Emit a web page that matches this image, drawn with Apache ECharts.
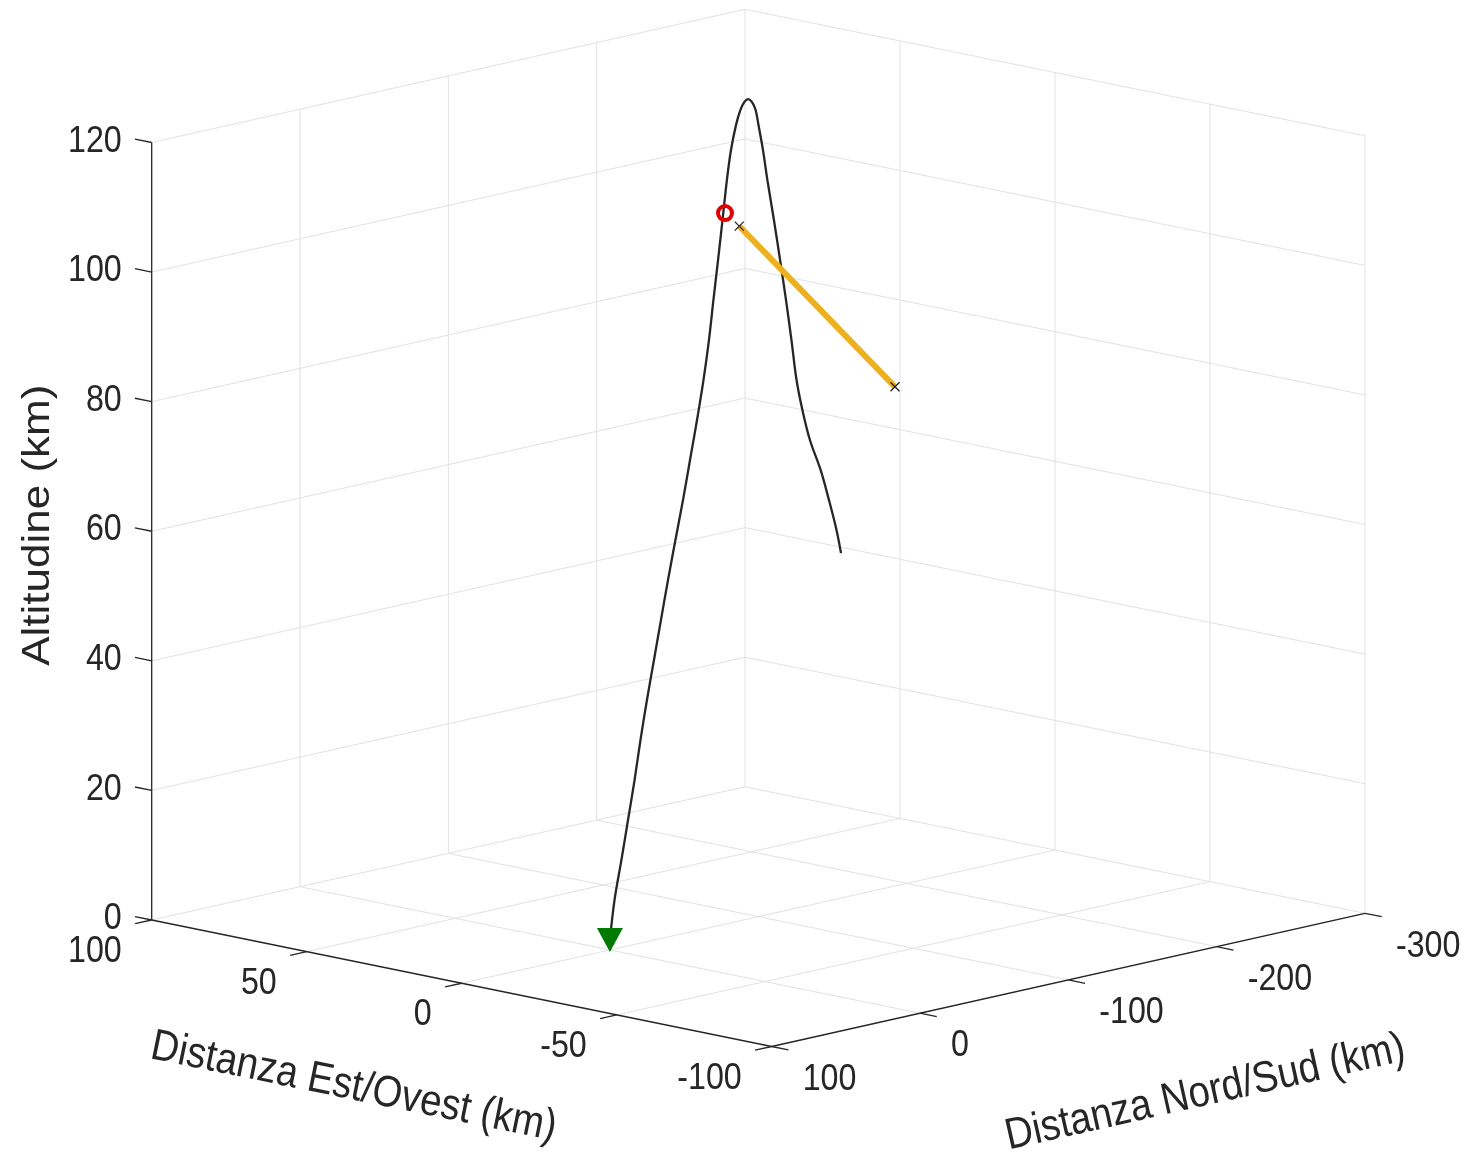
<!DOCTYPE html>
<html><head><meta charset="utf-8">
<script src="https://cdn.jsdelivr.net/npm/echarts@6/dist/echarts.min.js"></script>
<style>html,body{margin:0;padding:0;background:#fff}#c{width:1479px;height:1156px}</style>
</head><body><div id="c"></div>
<script>
// ---- tick values ----
const ewTicks = [100, 50, 0, -50, -100];
const nsTicks = [100, 0, -100, -200, -300];
const altTicks = [0, 20, 40, 60, 80, 100, 120];
const axisTitles = ['Distanza Est/Ovest (km)', 'Distanza Nord/Sud (km)', 'Altitudine (km)'];

// ---- trajectory [Est/Ovest, Nord/Sud, Altitudine] (km) ----
const trajectory = [
  [7.5,-15.6,0.0],[7.5,-18.7,6.0],[7.5,-23.4,12.0],[7.5,-27.8,17.9],[7.5,-32.2,23.8],
  [7.5,-36.2,29.8],[7.5,-40.6,35.8],[7.5,-45.3,41.7],[7.5,-50.0,47.6],[7.5,-54.8,53.6],
  [7.5,-59.8,59.5],[7.5,-64.9,65.4],[7.5,-69.6,71.3],[7.5,-74.3,77.2],[7.5,-78.7,83.2],
  [7.5,-82.4,89.2],[7.5,-85.4,95.2],[7.5,-88.5,101.2],[7.5,-91.5,107.2],[7.5,-94.5,113.3],
  [7.5,-97.2,117.7],[7.5,-100.6,121.4],[7.5,-103.6,123.6],[7.5,-106.3,124.7],[7.5,-108.9,125.0],
  [7.5,-111.4,124.4],[7.5,-113.8,123.1],[7.5,-115.8,120.6],[7.5,-118.8,116.6],[7.5,-121.8,111.8],
  [7.5,-126.2,105.4],[7.5,-130.3,99.1],[7.5,-134.3,92.7],[7.5,-138.0,86.3],[7.5,-141.4,80.0],
  [7.5,-145.4,75.1],[7.5,-150.5,70.2],[7.5,-157.6,65.3],[7.5,-163.3,60.3],[7.5,-168.4,55.4],
  [7.5,-171.4,51.7]
];
// orange segment endpoints
const segment = [[7.5,-102.8,105.7],[7.5,-207.8,75.5]];
// red circle point
const redPoint = [[7.5,-93.2,108.2]];
// green triangle (ground point)
const groundPoint = [[7.5,-15.6,0.0]];

// ---- 3D box & view ----
const AX = {ewMax:ewTicks[0], ewMin:ewTicks[ewTicks.length-1], nsMax:nsTicks[0], nsMin:nsTicks[nsTicks.length-1], zMin:altTicks[0], zMax:altTicks[altTicks.length-1]};
const VIEW = {ox:151.7, oy:920, ew:[620,126.5], ns:[593.3,-133.2], zPx:777.5};
function proj(p){
  const e=(AX.ewMax-p[0])/(AX.ewMax-AX.ewMin);
  const n=(AX.nsMax-p[1])/(AX.nsMax-AX.nsMin);
  const h=(p[2]-AX.zMin)/(AX.zMax-AX.zMin);
  return [VIEW.ox+VIEW.ew[0]*e+VIEW.ns[0]*n, VIEW.oy+VIEW.ew[1]*e+VIEW.ns[1]*n-VIEW.zPx*h];
}

const GRID='#e2e2e2', AXC='#262626';
const segs=[];
function seg(a,b,c,w){segs.push({a:proj(a),b:proj(b),c:c,w:w});}
// left wall (EW = max)
nsTicks.forEach(ns=>{ if(ns!==AX.nsMax) seg([AX.ewMax,ns,AX.zMin],[AX.ewMax,ns,AX.zMax],GRID,1); });
altTicks.forEach(z=>{ if(z!==AX.zMin) seg([AX.ewMax,AX.nsMax,z],[AX.ewMax,AX.nsMin,z],GRID,1); });
// right wall (NS = min)
ewTicks.forEach(ew=>{ if(ew!==AX.ewMax) seg([ew,AX.nsMin,AX.zMin],[ew,AX.nsMin,AX.zMax],GRID,1); });
altTicks.forEach(z=>{ if(z!==AX.zMin) seg([AX.ewMax,AX.nsMin,z],[AX.ewMin,AX.nsMin,z],GRID,1); });
// floor
ewTicks.forEach(ew=>seg([ew,AX.nsMax,0],[ew,AX.nsMin,0],GRID,1));
nsTicks.forEach(ns=>{ if(ns!==AX.nsMax) seg([AX.ewMax,ns,0],[AX.ewMin,ns,0],GRID,1); });
// axes
seg([AX.ewMax,AX.nsMax,AX.zMin],[AX.ewMax,AX.nsMax,AX.zMax],AXC,1.3);
seg([AX.ewMax,AX.nsMax,0],[AX.ewMin,AX.nsMax,0],AXC,1.3);
seg([AX.ewMin,AX.nsMax,0],[AX.ewMin,AX.nsMin,0],AXC,1.3);
// ticks
const tEW=(AX.ewMax-AX.ewMin)*0.027, tNS=(AX.nsMax-AX.nsMin)*0.028;
altTicks.forEach(z=>seg([AX.ewMax,AX.nsMax,z],[AX.ewMax+tEW,AX.nsMax,z],AXC,1.3));
ewTicks.forEach(ew=>seg([ew,AX.nsMax,0],[ew,AX.nsMax+tNS,0],AXC,1.3));
nsTicks.forEach(ns=>seg([AX.ewMin,ns,0],[AX.ewMin-tEW,ns,0],AXC,1.3));

// ---- labels ----
const FONT='"Liberation Sans", Arial, Helvetica, sans-serif';
const labels=[];
altTicks.forEach(z=>{const p=proj([AX.ewMax,AX.nsMax,z]); labels.push({p:p,dx:-30,dy:-1,t:String(z),al:'right',fs:37,r:0,sx:0.87,sy:1});});
ewTicks.forEach(ew=>{const p=proj([ew,AX.nsMax,0]); labels.push({p:p,dx:-30,dy:32,t:String(ew),al:'right',fs:37,r:0,sx:0.87,sy:1});});
nsTicks.forEach(ns=>{const p=proj([AX.ewMin,ns,0]); labels.push({p:p,dx:31,dy:33,t:String(ns),al:'left',fs:37,r:0,sx:0.87,sy:1});});
{
  const pe=proj([(AX.ewMax+AX.ewMin)/2,AX.nsMax,0]);
  labels.push({p:pe,dx:-108,dy:104,t:axisTitles[0],al:'center',fs:44,r:-Math.atan2(VIEW.ew[1],VIEW.ew[0]),sx:0.87,sy:1});
  const pn=proj([AX.ewMin,(AX.nsMax+AX.nsMin)/2,0]);
  labels.push({p:pn,dx:137,dy:113,t:axisTitles[1],al:'center',fs:44,r:-Math.atan2(VIEW.ns[1],VIEW.ns[0]),sx:0.87,sy:1});
  const pz=proj([AX.ewMax,AX.nsMax,(AX.zMax+AX.zMin)/2]);
  labels.push({p:pz,dx:-113,dy:-6,t:axisTitles[2],al:'center',fs:44,r:Math.PI/2,sx:1,sy:0.87});
}

const chart=echarts.init(document.getElementById('c'),null,{renderer:'canvas'});
chart.setOption({
  animation:false,
  backgroundColor:'#ffffff',
  grid:{left:0,right:0,top:0,bottom:0,containLabel:false},
  xAxis:{type:'value',min:0,max:1479,show:false},
  yAxis:{type:'value',min:0,max:1156,inverse:true,show:false},
  series:[
    {type:'custom',coordinateSystem:'cartesian2d',z:1,silent:true,
     data:segs.map(s=>[s.a[0],s.a[1],s.b[0],s.b[1]]),
     encode:{x:[0,2],y:[1,3]},
     renderItem:function(params,api){const s=segs[params.dataIndex];const a=api.coord(s.a),b=api.coord(s.b);
       return {type:'line',shape:{x1:a[0],y1:a[1],x2:b[0],y2:b[1]},style:{stroke:s.c,lineWidth:s.w}};}},
    {type:'custom',coordinateSystem:'cartesian2d',z:2,silent:true,
     data:labels.map(l=>[l.p[0],l.p[1]]),
     renderItem:function(params,api){const l=labels[params.dataIndex];const a=api.coord(l.p);
       return {type:'text',x:a[0]+l.dx,y:a[1]+l.dy,rotation:l.r,scaleX:l.sx,scaleY:l.sy,
         style:{text:l.t,fontSize:l.fs,fontFamily:FONT,fill:AXC,align:l.al,verticalAlign:'middle'}};}},
    {type:'line',z:5,data:trajectory.map(proj),showSymbol:false,smooth:0.35,
     lineStyle:{color:'#262626',width:2.3},silent:true},
    {type:'line',z:6,data:segment.map(proj),showSymbol:false,
     lineStyle:{color:'#EDB120',width:6},silent:true},
    {type:'custom',coordinateSystem:'cartesian2d',z:7,silent:true,
     data:segment.map(proj),
     renderItem:function(params,api){const c=api.coord([api.value(0),api.value(1)]);const d=4.5;
       return {type:'group',children:[
         {type:'line',shape:{x1:c[0]-d,y1:c[1]-d,x2:c[0]+d,y2:c[1]+d},style:{stroke:'#222',lineWidth:1.3}},
         {type:'line',shape:{x1:c[0]-d,y1:c[1]+d,x2:c[0]+d,y2:c[1]-d},style:{stroke:'#222',lineWidth:1.3}}]};}},
    {type:'scatter',z:8,data:redPoint.map(proj),symbol:'circle',symbolSize:14,
     itemStyle:{color:'rgba(0,0,0,0)',borderColor:'#e00000',borderWidth:4,opacity:1},silent:true},
    {type:'scatter',z:8,data:groundPoint.map(proj),symbol:'triangle',symbolRotate:180,symbolSize:[26,24],
     itemStyle:{color:'#007a00',opacity:1},silent:true}
  ]
});
</script></body></html>
